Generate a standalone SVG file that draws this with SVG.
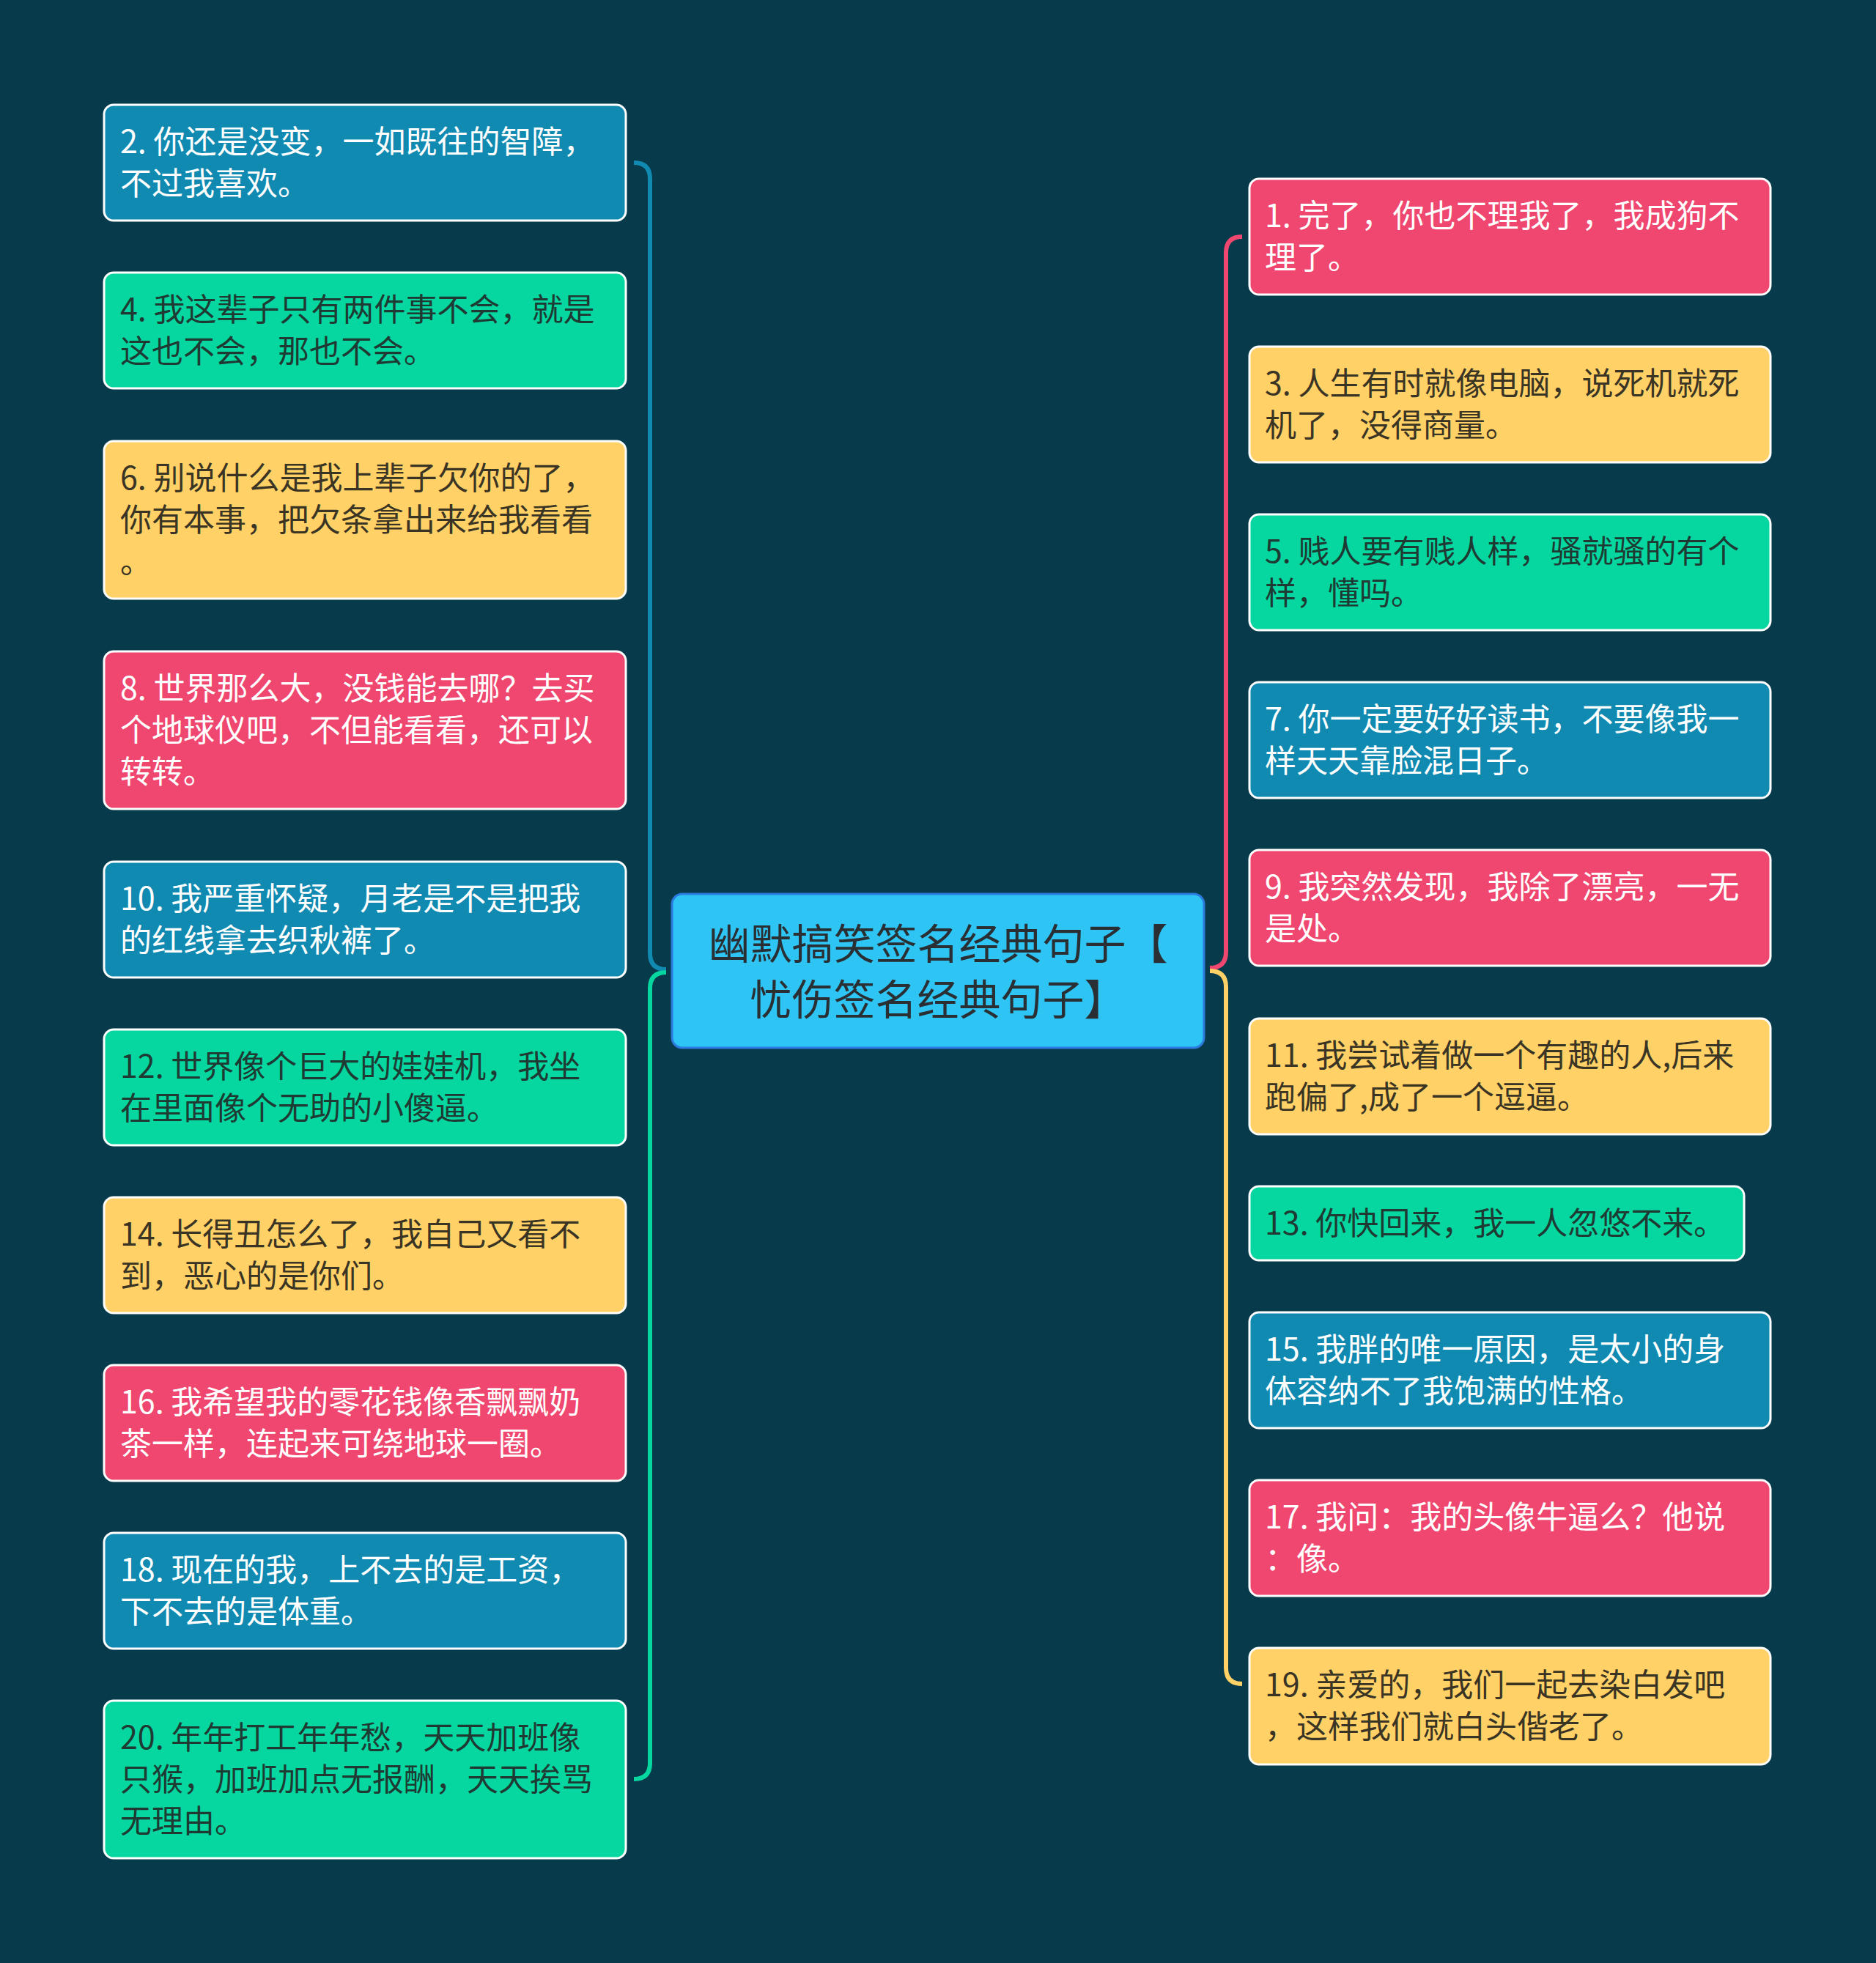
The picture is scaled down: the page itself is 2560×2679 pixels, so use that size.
<svg xmlns="http://www.w3.org/2000/svg" width="2560" height="2679" viewBox="0 0 2560 2679">
<style>
.bg{fill:#073B4C}
.n{stroke:#FFFFFF;stroke-width:3}
.blue{fill:#118AB2}.green{fill:#06D6A0}.yellow{fill:#FFD166}.red{fill:#EF476F}
.t{font-family:"Noto Sans CJK SC","Noto Sans",sans-serif;font-size:43px}
.tw{fill:#FFFFFF}.tg{fill:#1E3A33}.ty{fill:#3A3424}
.c{fill:none;stroke-width:6;stroke-linecap:butt}
.root{fill:#2EC4F4;stroke:#2B7BDE;stroke-width:3}
.rt{font-family:"Noto Sans CJK SC","Noto Sans",sans-serif;font-size:57px;fill:#2A2F33;text-anchor:middle}
</style>
<rect class="bg" x="0" y="0" width="2560" height="2679"/>
<g id="connectors">
<path class="c" stroke="#118AB2" d="M865 222 Q887 222 887 244 L887 1301 Q887 1323 909 1323"/>
<path class="c" stroke="#06D6A0" d="M909 1327 Q887 1327 887 1349 L887 2406 Q887 2428 865 2428"/>
<path class="c" stroke="#EF476F" d="M1695 323 Q1673 323 1673 345 L1673 1299 Q1673 1321 1651 1321"/>
<path class="c" stroke="#FFD166" d="M1651 1325 Q1673 1325 1673 1347 L1673 2276 Q1673 2298 1695 2298"/>
</g>
<g id="root">
<rect class="root" x="917" y="1220" width="726" height="210" rx="14"/>
<text class="rt"><tspan x="1280" y="1309">幽默搞笑签名经典句子【</tspan><tspan x="1280" y="1385">忧伤签名经典句子】</tspan></text>
</g>
<g id="n2"><rect class="n blue" x="142" y="143" width="712" height="158" rx="13"/><text class="t tw"><tspan x="164" y="209">2. 你还是没变，一如既往的智障，</tspan><tspan x="164" y="266">不过我喜欢。</tspan></text></g>
<g id="n4"><rect class="n green" x="142" y="372" width="712" height="158" rx="13"/><text class="t tg"><tspan x="164" y="438">4. 我这辈子只有两件事不会，就是</tspan><tspan x="164" y="495">这也不会，那也不会。</tspan></text></g>
<g id="n6"><rect class="n yellow" x="142" y="602" width="712" height="215" rx="13"/><text class="t ty"><tspan x="164" y="668">6. 别说什么是我上辈子欠你的了，</tspan><tspan x="164" y="725">你有本事，把欠条拿出来给我看看</tspan><tspan x="164" y="782">。</tspan></text></g>
<g id="n8"><rect class="n red" x="142" y="889" width="712" height="215" rx="13"/><text class="t tw"><tspan x="164" y="955">8. 世界那么大，没钱能去哪？去买</tspan><tspan x="164" y="1012">个地球仪吧，不但能看看，还可以</tspan><tspan x="164" y="1069">转转。</tspan></text></g>
<g id="n10"><rect class="n blue" x="142" y="1176" width="712" height="158" rx="13"/><text class="t tw"><tspan x="164" y="1242">10. 我严重怀疑，月老是不是把我</tspan><tspan x="164" y="1299">的红线拿去织秋裤了。</tspan></text></g>
<g id="n12"><rect class="n green" x="142" y="1405" width="712" height="158" rx="13"/><text class="t tg"><tspan x="164" y="1471">12. 世界像个巨大的娃娃机，我坐</tspan><tspan x="164" y="1528">在里面像个无助的小傻逼。</tspan></text></g>
<g id="n14"><rect class="n yellow" x="142" y="1634" width="712" height="158" rx="13"/><text class="t ty"><tspan x="164" y="1700">14. 长得丑怎么了，我自己又看不</tspan><tspan x="164" y="1757">到，恶心的是你们。</tspan></text></g>
<g id="n16"><rect class="n red" x="142" y="1863" width="712" height="158" rx="13"/><text class="t tw"><tspan x="164" y="1929">16. 我希望我的零花钱像香飘飘奶</tspan><tspan x="164" y="1986">茶一样，连起来可绕地球一圈。</tspan></text></g>
<g id="n18"><rect class="n blue" x="142" y="2092" width="712" height="158" rx="13"/><text class="t tw"><tspan x="164" y="2158">18. 现在的我，上不去的是工资，</tspan><tspan x="164" y="2215">下不去的是体重。</tspan></text></g>
<g id="n20"><rect class="n green" x="142" y="2321" width="712" height="215" rx="13"/><text class="t tg"><tspan x="164" y="2387">20. 年年打工年年愁，天天加班像</tspan><tspan x="164" y="2444">只猴，加班加点无报酬，天天挨骂</tspan><tspan x="164" y="2501">无理由。</tspan></text></g>
<g id="n1"><rect class="n red" x="1705" y="244" width="711" height="158" rx="13"/><text class="t tw"><tspan x="1726" y="310">1. 完了，你也不理我了，我成狗不</tspan><tspan x="1726" y="367">理了。</tspan></text></g>
<g id="n3"><rect class="n yellow" x="1705" y="473" width="711" height="158" rx="13"/><text class="t ty"><tspan x="1726" y="539">3. 人生有时就像电脑，说死机就死</tspan><tspan x="1726" y="596">机了，没得商量。</tspan></text></g>
<g id="n5"><rect class="n green" x="1705" y="702" width="711" height="158" rx="13"/><text class="t tg"><tspan x="1726" y="768">5. 贱人要有贱人样，骚就骚的有个</tspan><tspan x="1726" y="825">样，懂吗。</tspan></text></g>
<g id="n7"><rect class="n blue" x="1705" y="931" width="711" height="158" rx="13"/><text class="t tw"><tspan x="1726" y="997">7. 你一定要好好读书，不要像我一</tspan><tspan x="1726" y="1054">样天天靠脸混日子。</tspan></text></g>
<g id="n9"><rect class="n red" x="1705" y="1160" width="711" height="158" rx="13"/><text class="t tw"><tspan x="1726" y="1226">9. 我突然发现，我除了漂亮，一无</tspan><tspan x="1726" y="1283">是处。</tspan></text></g>
<g id="n11"><rect class="n yellow" x="1705" y="1390" width="711" height="158" rx="13"/><text class="t ty"><tspan x="1726" y="1456">11. 我尝试着做一个有趣的人,后来</tspan><tspan x="1726" y="1513">跑偏了,成了一个逗逼。</tspan></text></g>
<g id="n13"><rect class="n green" x="1705" y="1619" width="675" height="101" rx="13"/><text class="t tg"><tspan x="1726" y="1685">13. 你快回来，我一人忽悠不来。</tspan></text></g>
<g id="n15"><rect class="n blue" x="1705" y="1791" width="711" height="158" rx="13"/><text class="t tw"><tspan x="1726" y="1857">15. 我胖的唯一原因，是太小的身</tspan><tspan x="1726" y="1914">体容纳不了我饱满的性格。</tspan></text></g>
<g id="n17"><rect class="n red" x="1705" y="2020" width="711" height="158" rx="13"/><text class="t tw"><tspan x="1726" y="2086">17. 我问：我的头像牛逼么？他说</tspan><tspan x="1726" y="2143">：像。</tspan></text></g>
<g id="n19"><rect class="n yellow" x="1705" y="2249" width="711" height="159" rx="13"/><text class="t ty"><tspan x="1726" y="2315">19. 亲爱的，我们一起去染白发吧</tspan><tspan x="1726" y="2372">，这样我们就白头偕老了。</tspan></text></g>
</svg>
